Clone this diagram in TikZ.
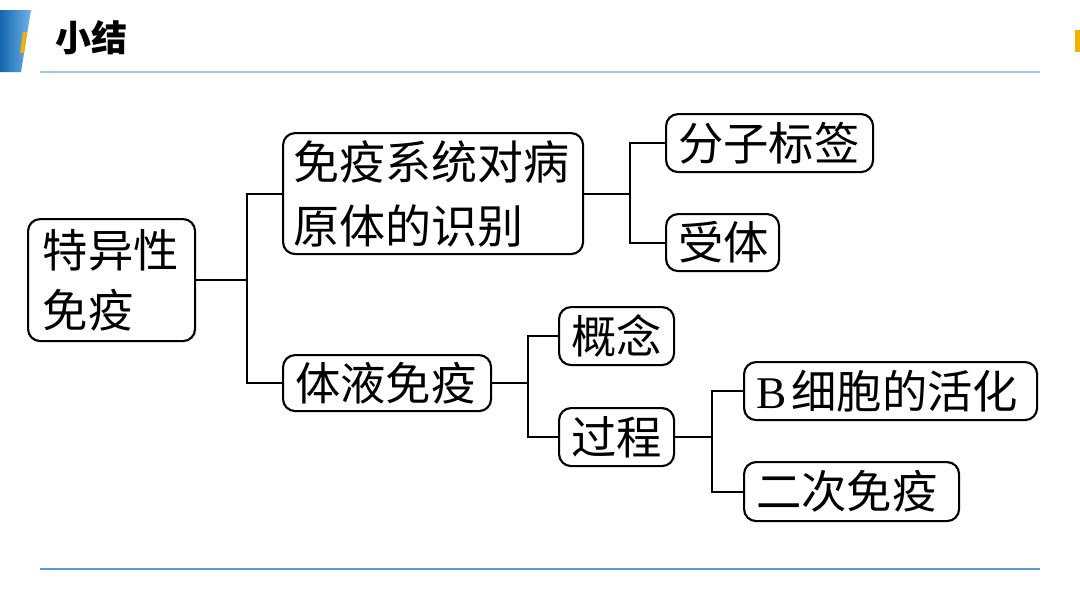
\documentclass[tikz,border=0pt]{standalone}
\usepackage{fontspec}
\setmainfont{Liberation Serif}
\newfontfamily\cjk{Noto Sans CJK SC}
\newfontfamily\lat{Liberation Serif}
\definecolor{tabdark}{HTML}{1565B0}
\definecolor{tablight}{HTML}{6FB3E6}
\definecolor{accent}{HTML}{F2B100}
\definecolor{toprule}{HTML}{9CC8E8}
\definecolor{botrule}{HTML}{5B9BD5}
\tikzset{
  box/.style={draw=black, line width=1.6pt, rounded corners=9pt, inner xsep=9pt, inner ysep=0pt,
              font=\cjk\fontsize{34}{45}\selectfont, anchor=north west, align=left},
  link/.style={draw=black, line width=1.6pt},
}
\begin{document}
\begin{tikzpicture}[x=0.75pt,y=-0.75pt]
\useasboundingbox (0,0) rectangle (1080,608);
% header decoration
\shade[left color=tabdark, right color=tablight] (0,10) -- (31,10) -- (21,72) -- (0,72) -- cycle;
\fill[accent] (23,32) -- (27,32) -- (24,53) -- (20,53) -- cycle;
\fill[accent] (1075,30) rectangle (1080,52);
\node[font=\cjk\bfseries\fontsize{27}{30}\selectfont, anchor=center] (title) at (91,38) {小结};
\draw[toprule, line width=1.2pt] (40,72) -- (1040,72);
\draw[botrule, line width=1.2pt] (40,569) -- (1040,569);
% boxes
\node[box, inner xsep=11pt, minimum width=167*0.75pt, minimum height=122*0.75pt, text width=167*0.75pt-22pt] (root) at (27,218) {特异性\\免疫};
\node[box, inner xsep=8pt, minimum width=300*0.75pt, minimum height=121*0.75pt, text width=300*0.75pt-16pt, font=\cjk\fontsize{34.5}{48}\selectfont] (recog) at (282,132) {免疫系统对病\\原体的识别};
\node[box, minimum width=207*0.75pt, minimum height=58*0.75pt, text width=207*0.75pt-18pt] (tag) at (665,113) {分子标签};
\node[box, minimum width=113*0.75pt, minimum height=57*0.75pt, text width=113*0.75pt-18pt] (recep) at (665,213) {受体};
\node[box, minimum width=208*0.75pt, minimum height=56*0.75pt, text width=208*0.75pt-18pt] (humoral) at (282,354) {体液免疫};
\node[box, minimum width=115*0.75pt, minimum height=58*0.75pt, text width=115*0.75pt-18pt] (concept) at (558,306) {概念};
\node[box, minimum width=115*0.75pt, minimum height=58*0.75pt, text width=115*0.75pt-18pt] (process) at (558,407) {过程};
\node[box, minimum width=293*0.75pt, minimum height=58*0.75pt, text width=293*0.75pt-18pt] (bcell) at (743,361) {{\lat B}\hspace{4pt}细胞的活化};
\node[box, minimum width=215*0.75pt, minimum height=59*0.75pt, text width=215*0.75pt-18pt] (second) at (743,461) {二次免疫};
% connectors
\coordinate (j1) at (247,0);
\coordinate (j2) at (630,0);
\coordinate (j3) at (528,0);
\coordinate (j4) at (712,0);
\draw[link] (root.east) -- (root.east -| j1);
\draw[link] (recog.west) -- (recog.west -| j1) -- (humoral.west -| j1) -- (humoral.west);
\draw[link] (recog.east) -- (recog.east -| j2);
\draw[link] (tag.west) -- (tag.west -| j2) -- (recep.west -| j2) -- (recep.west);
\draw[link] (humoral.east) -- (humoral.east -| j3);
\draw[link] (concept.west) -- (concept.west -| j3) -- (process.west -| j3) -- (process.west);
\draw[link] (process.east) -- (process.east -| j4);
\draw[link] (bcell.west) -- (bcell.west -| j4) -- (second.west -| j4) -- (second.west);
\end{tikzpicture}
\end{document}
